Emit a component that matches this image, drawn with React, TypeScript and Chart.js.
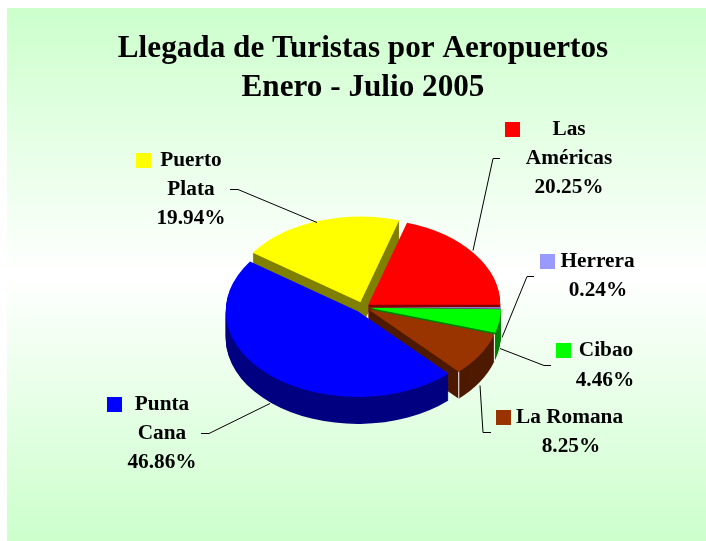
import React, { useEffect, useRef } from "react";
import { Chart, registerables } from "chart.js";

Chart.register(...registerables);

const categories = ["Las Américas", "Herrera", "Cibao", "La Romana", "Punta Cana", "Puerto Plata"];
const shares = [20.25, 0.24, 4.46, 8.25, 46.86, 19.94];
const topColors = ["#ff0000", "#9999ff", "#00ff00", "#993300", "#0000ff", "#ffff00"];
const wallColors = ["#800000", "#4d4d80", "#008000", "#4d1a00", "#000080", "#808000"];
const titleLines = ["Llegada de Turistas por Aeropuertos", "Enero - Julio 2005"];

const TILT = 0.65;
const DEPTH = 27;
const explode = [6.5, 6, 6, 6, 8, 8];
const FONT = 'bold 21.3px "Liberation Serif", "Times New Roman", serif';
const drawOrder = [5, 0, 1, 2, 3, 4];

const callouts = [
  { key: [505, 122], lines: [["Las", 569, 135], ["Américas", 569, 164], ["%", 569, 193]], leader: [[500, 158], [493, 158], [473, 250]] },
  { key: [540, 254], lines: [["Herrera", 597.5, 267], ["%", 598, 296]], leader: [[534, 276], [527, 276], [502, 337]] },
  { key: [556, 343], lines: [["Cibao", 606, 356], ["%", 605, 386]], leader: [[551, 365], [544, 365], [500, 348]] },
  { key: [496, 410], lines: [["La Romana", 569.5, 423], ["%", 571, 452]], leader: [[491, 432], [483, 432], [480, 385]] },
  { key: [107, 397], lines: [["Punta", 162, 410], ["Cana", 162, 439], ["%", 162, 468]], leader: [[201, 433], [209, 433], [270, 403]] },
  { key: [136, 153], lines: [["Puerto", 191, 166], ["Plata", 191, 195], ["%", 191, 224]], leader: [[230, 189], [238, 189], [317, 222]] },
] as const;

const pie3d = {
  id: "pie3d",
  beforeDraw(chart: any) {
    const { ctx, width, height } = chart;
    const g = ctx.createLinearGradient(0, 8, 0, height);
    g.addColorStop(0, "#ccffcc");
    g.addColorStop(0.5, "#ffffff");
    g.addColorStop(1, "#ccffcc");
    ctx.save();
    ctx.fillStyle = g;
    ctx.fillRect(7, 8, width - 7, height - 8);
    ctx.restore();
  },
  beforeDatasetDraw(chart: any) {
    const { ctx } = chart;
    const arcs = chart.getDatasetMeta(0).data;
    const paint = (arc: any, i: number, color: string, drop: number) => {
      const mid = (arc.startAngle + arc.endAngle) / 2;
      const saved = arc.options;
      arc.options = { ...saved, backgroundColor: color, borderColor: color, borderWidth: 0 };
      ctx.save();
      ctx.translate(arc.x, arc.y + drop);
      ctx.scale(1, TILT);
      ctx.translate(-arc.x, -arc.y);
      ctx.translate(Math.cos(mid) * explode[i], Math.sin(mid) * explode[i]);
      arc.draw(ctx);
      ctx.restore();
      arc.options = saved;
    };
    const corner = (i: number, angle: number) => {
      const arc = arcs[i];
      const mid = (arc.startAngle + arc.endAngle) / 2;
      const x = arc.x + Math.cos(mid) * explode[i] + Math.cos(angle) * arc.outerRadius;
      const y = arc.y + (Math.sin(mid) * explode[i] + Math.sin(angle) * arc.outerRadius) * TILT;
      ctx.save();
      ctx.beginPath();
      ctx.moveTo(x, y);
      ctx.lineTo(x, y + DEPTH);
      ctx.strokeStyle = "#ffffff";
      ctx.lineWidth = 1;
      ctx.stroke();
      ctx.restore();
    };
    drawOrder.forEach((i) => {
      for (let d = DEPTH; d > 0; d--) paint(arcs[i], i, wallColors[i], d);
      paint(arcs[i], i, topColors[i], 0);
      if (i === 3) {
        corner(3, arcs[3].startAngle);
        corner(3, arcs[3].endAngle);
      }
    });
    return false;
  },
  afterDatasetsDraw(chart: any) {
    const { ctx } = chart;
    ctx.save();
    ctx.font = FONT;
    ctx.textAlign = "center";
    ctx.textBaseline = "alphabetic";
    callouts.forEach((c, i) => {
      ctx.beginPath();
      c.leader.forEach((p, j) => (j ? ctx.lineTo(p[0], p[1] + 0.5) : ctx.moveTo(p[0], p[1] + 0.5)));
      ctx.strokeStyle = "#000000";
      ctx.lineWidth = 1;
      ctx.stroke();
      ctx.fillStyle = topColors[i];
      ctx.fillRect(c.key[0], c.key[1], 15, 15);
      ctx.fillStyle = "#000000";
      c.lines.forEach((l) => {
        ctx.fillText(l[0] === "%" ? shares[i].toFixed(2) + "%" : l[0], l[1], l[2]);
      });
    });
    ctx.restore();
  },
};

export default function App() {
  const ref = useRef<HTMLCanvasElement>(null);
  useEffect(() => {
    const chart = new Chart(ref.current as HTMLCanvasElement, {
      type: "pie",
      data: {
        labels: categories,
        datasets: [{ data: shares, backgroundColor: topColors, borderWidth: 0, clip: false } as any],
      },
      options: {
        responsive: false,
        animation: false,
        rotation: 17.1,
        radius: 132,
        layout: { padding: { left: 20, right: 0, top: 21.5, bottom: 37 } },
        plugins: {
          legend: { display: false },
          tooltip: { enabled: false },
          title: {
            display: true,
            text: titleLines,
            color: "#000000",
            font: { family: '"Liberation Serif", "Times New Roman", serif', size: 31.2, weight: "bold", lineHeight: 1.25 },
            padding: { top: 8, bottom: 3 },
          },
        },
      } as any,
      plugins: [pie3d],
    });
    return () => chart.destroy();
  }, []);
  return (
    <canvas
      ref={ref}
      width={706}
      height={541}
      style={{ position: "absolute", left: 0, top: 0, width: 706, height: 541, display: "block" }}
    />
  );
}
